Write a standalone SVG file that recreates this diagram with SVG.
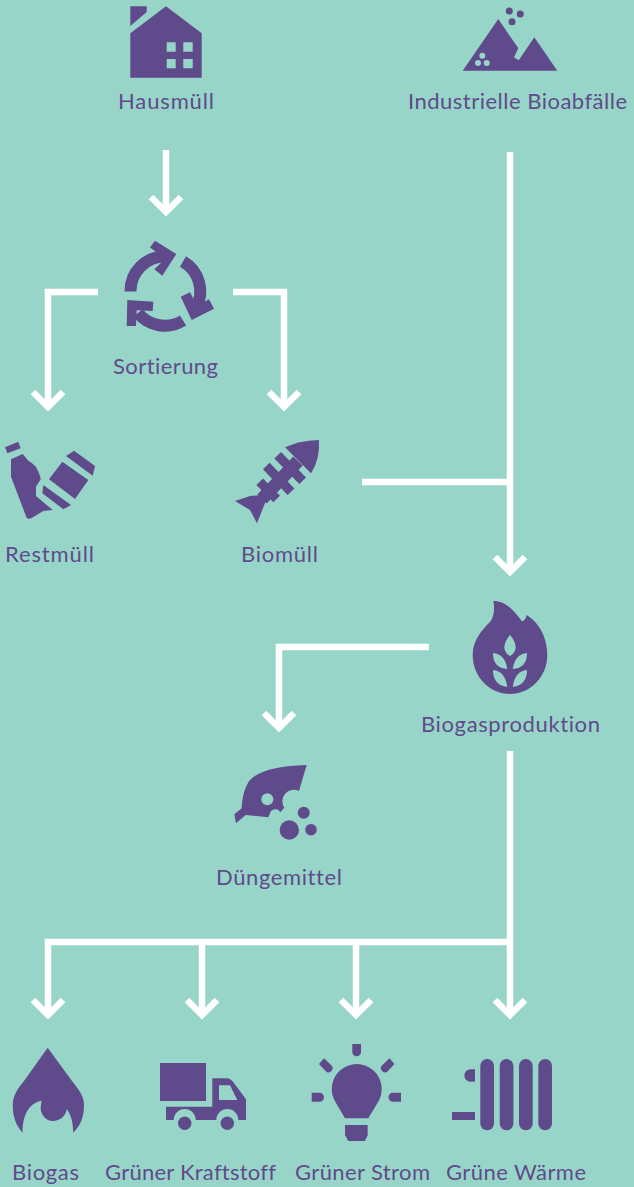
<svg xmlns="http://www.w3.org/2000/svg" width="634" height="1187" viewBox="0 0 634 1187">
<style>
.i{fill:#5f4b8b}.h{fill:#98d5c9}
.a{fill:none;stroke:#5f4b8b;stroke-width:12}
.r{fill:none;stroke:#5f4b8b;stroke-width:9.300}
.c{fill:none;stroke:#fff;stroke-width:6.500}
text{font-family:"Lato","Liberation Sans",sans-serif;font-size:22px;fill:#5f4b8b;text-anchor:start;font-variant-ligatures:none}
</style>
<rect width="634" height="1187" class="h"/>
<g id="connectors" class="c">
<path d="M166 150V212"/><path d="M151 197L166 212L181 197"/>
<path d="M98 292H48V407"/><path d="M33 392L48 407L63 392"/>
<path d="M233 292H284V407"/><path d="M269 392L284 407L299 392"/>
<path d="M510 152V572"/><path d="M495 557L510 572L525 557"/>
<path d="M362 482H510"/>
<path d="M429 647H279V728"/><path d="M264 713L279 728L294 713"/>
<path d="M510 751V1015"/><path d="M495 1000L510 1015L525 1000"/>
<path d="M510 942H48V1015"/><path d="M33 1000L48 1015L63 1000"/>
<path d="M202 942V1015"/><path d="M187 1000L202 1015L217 1000"/>
<path d="M356 942V1015"/><path d="M341 1000L356 1015L371 1000"/>
</g>
<g id="hausmuell">
<path class="i" d="M130.300 6.300H146.700V12L130.300 26ZM166 6.300L201.700 33.300V77.700H130.300V33.300Z"/>
<path class="h" d="M166.700 42.300h9v9.400h-9zM183.300 42.300h9.400v9.400h-9.400zM166.700 59h9v9.300h-9zM183.300 59h9.400v9.300h-9.400z"/>
<text x="118" y="109" textLength="96">Hausmüll</text>
</g>
<g id="industrielle">
<path class="i" d="M498.300 19L518.300 48.300L514 57.300L518.700 60.300L534.300 37.300L557.300 70.700H462.700Z"/>
<circle class="i" cx="509.300" cy="11" r="3.500"/><circle class="i" cx="520.300" cy="14" r="3.500"/><circle class="i" cx="512" cy="21.700" r="3.500"/>
<circle class="h" cx="482.300" cy="55.700" r="3"/><circle class="h" cx="478" cy="63" r="3"/><circle class="h" cx="486.700" cy="63" r="3"/>
<text x="408" y="109" textLength="219">Industrielle Bioabfälle</text>
</g>
<g id="sortierung">
<path class="a" d="M130.500 291.500A34.500 34.500 0 0 1 165 256.500"/>
<path class="i" d="M150 247.300L155 240.700L176.300 254L162.300 275.700L154.300 269.300L165 259.300Z"/>
<path class="a" d="M183 261.500A34.500 34.500 0 0 1 196 308"/>
<path class="i" d="M180.700 296.700L190 292.300L197.300 305.700L209 299.300L214 308.700L191.700 320Z"/>
<path class="a" d="M183 320.500A34.500 34.500 0 0 1 138 313"/>
<path class="i" d="M127.300 300L153.300 301.700L152.700 311L136.700 310.300L136 326L126.700 326Z"/>
<text x="113" y="374" textLength="105">Sortierung</text>
</g>
<g id="restmuell">
<path class="i" d="M5 447.300L18.300 441.700L20.700 448.300L7.300 453.300Z"/>
<path class="i" d="M11 459.300L22.700 454L28.300 460.700Q33 463 36 467Q40 474 40.700 479.300L36 486.700V496L52.700 510L43.300 511L35 516Q30 520 26.700 518L11 476.700Z"/>
<path class="i" d="M62.300 461.700L88.300 480L75 499L49 479.300Z"/>
<path class="i" d="M66 456L74 450.700L95 466L92.700 475.700Z"/>
<path class="i" d="M43.300 485L71 505L63.300 509.300L42.300 493.300Z"/>
<text x="5" y="562" textLength="89">Restmüll</text>
</g>
<g id="biomuell">
<path class="i" d="M235 501L250 496L262 495L267 498L257 523.300L250 510Z"/>
<path class="i" d="M285 447.300Q298 441 319 440Q320 460 311 473.300Z"/>
<path class="r" style="stroke-width:13" d="M262 499L298 461"/>
<path class="r" d="M277.700 455.300L302.700 480.700M266.300 466L291 491.700M259.700 481.700L276.700 499"/>
<text x="241" y="562" textLength="77">Biomüll</text>
</g>
<g id="biogasproduktion">
<path class="i" d="M493.300 601C506 601 513 610 521.700 621C524 622 526 618 526.700 615C538 622 547.300 636 547.300 655C547.300 677 530 694 510 694C490 694 472.700 677 472.700 655C472.700 640 482 630 490 622C494 617 495 608 493.300 601Z"/>
<path class="h" d="M510 635Q516 642 515.700 648Q515 653 510 656Q505 653 504.300 648Q504 642 510 635Z"/>
<path class="h" d="M493 653Q505 654 507.300 669Q493 668 493 653ZM527 653Q515 654 512.700 669Q527 668 527 653ZM493 670Q505 671 507.300 687Q493 685 493 670ZM527 670Q515 671 512.700 687Q527 685 527 670Z"/>
<text x="421" y="732" textLength="179">Biogasproduktion</text>
</g>
<g id="duengemittel">
<path class="i" d="M306.700 765L299 791A11.500 11.500 0 0 0 284.300 807.700L280.300 812.300A5.500 5.500 0 0 0 270 813.300L268.300 817.300L245.700 815L236 823.300L234.300 814.300L241.700 808.300C242 795 246 785 250 780C259 770 280 766 306.700 765Z"/>
<circle class="h" cx="267.300" cy="799.300" r="6"/>
<circle class="i" cx="289.300" cy="830" r="9.700"/><circle class="i" cx="311" cy="829.700" r="5.800"/><circle class="i" cx="303.700" cy="812.700" r="6"/>
<text x="216" y="885" textLength="126">Düngemittel</text>
</g>
<g id="biogas">
<path class="i" d="M47.700 1047.700L72 1081C79 1090 84 1096 84 1105C84 1118 80 1126 73.300 1132.700C73 1125 72 1116 66.700 1109C66 1116 60 1121 53 1121C45 1121 40 1113 40.700 1107Q41 1103 41.700 1100.700C32 1102 22 1112 22.700 1132.700C16 1126 12.700 1116 12.700 1105C12.700 1096 18 1088 24 1081Z"/>
<text x="12" y="1180" textLength="67">Biogas</text>
</g>
<g id="kraftstoff">
<path class="i" d="M160 1063H206V1101H160Z"/>
<path class="i" fill-rule="evenodd" d="M166 1106.700H212.300V1078.300H226Q231 1078.300 234 1083L246 1099.300V1120H238.300A11 11 0 0 0 216.300 1120H195.700A11 11 0 0 0 173.700 1120H166ZM219 1085.300V1100H237.300L230 1085.300Z"/>
<circle class="i" cx="184.700" cy="1123.300" r="6.700"/><circle class="i" cx="227.300" cy="1123.300" r="6.700"/>
<text x="105" y="1180" textLength="171">Grüner Kraftstoff</text>
</g>
<g id="strom">
<path class="i" d="M345 1118.300L336 1103A25 25 0 1 1 377.500 1103L368.300 1118.300Z"/>
<path class="i" d="M345 1125H367.700V1135L365 1141H348.300L345 1135Z"/>
<path class="i" d="M352.300 1044H361V1052A4.300 4.300 0 0 1 352.300 1052ZM311.700 1092.700H319.500A4.500 4.500 0 0 1 319.500 1101.700H311.700ZM401 1092.700H393A4.500 4.500 0 0 0 393 1101.700H401Z"/>
<path class="i" d="M319 1064L324 1058.300L331.500 1065.500A4 4 0 0 1 325.500 1071ZM394.500 1064L389.500 1058.300L382 1065.500A4 4 0 0 0 388 1071Z"/>
<text x="295" y="1180" textLength="135">Grüner Strom</text>
</g>
<g id="waerme">
<rect class="i" x="480.300" y="1059" width="13.700" height="71.300" rx="6.800"/><rect class="i" x="499.700" y="1059" width="13.700" height="71.300" rx="6.800"/><rect class="i" x="519" y="1059" width="13.700" height="71.300" rx="6.800"/><rect class="i" x="538.300" y="1059" width="13.700" height="71.300" rx="6.800"/>
<path class="i" d="M475 1069.300V1081.700H470.500A6.200 6.200 0 0 1 470.500 1069.300ZM452 1112H475V1120H452Z"/>
<text x="446" y="1180" textLength="140">Grüne Wärme</text>
</g>
</svg>
